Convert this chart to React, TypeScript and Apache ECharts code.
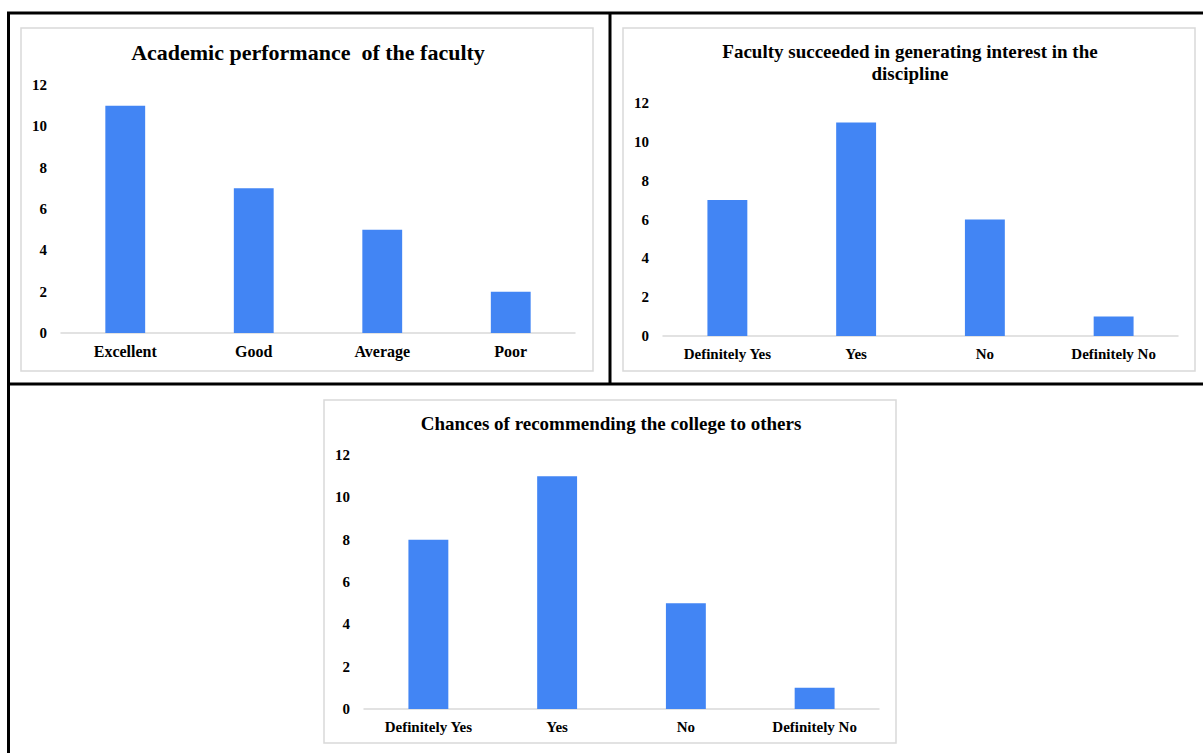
import React, { useEffect, useRef } from "react";
import * as echarts from "echarts";

const cats1 = ["Excellent", "Good", "Average", "Poor"];
const vals1 = [11, 7, 5, 2];
const cats2 = ["Definitely Yes", "Yes", "No", "Definitely No"];
const vals2 = [7, 11, 6, 1];
const cats3 = ["Definitely Yes", "Yes", "No", "Definitely No"];
const vals3 = [8, 11, 5, 1];

const title1 = "Academic performance  of the faculty";
const title2 = "Faculty succeeded in generating interest in the\ndiscipline";
const title3 = "Chances of recommending the college to others";

const FONT = "'Liberation Serif', 'Times New Roman', serif";
const BAR = "#4285F4";
const AXIS = "#d9d9d9";

export default function App() {
  const ref = useRef<HTMLDivElement>(null);
  useEffect(() => {
    const chart = echarts.init(ref.current!, undefined, { renderer: "svg" });
    const grids = [
      { left: 61, top: 85, width: 514, height: 248 },
      { left: 663, top: 103, width: 515, height: 233 },
      { left: 364, top: 455, width: 515, height: 254 },
    ];
    const cats = [cats1, cats2, cats3];
    const vals = [vals1, vals2, vals3];
    const xFont = [16, 15, 15];
    const yFont = [15, 15, 15];
    const box = (x: number, y: number, w: number, h: number) => ({
      type: "rect",
      shape: { x, y, width: w, height: h },
      style: { fill: "none", stroke: AXIS, lineWidth: 1.5 },
      silent: true,
    });
    const bline = (x1: number, y1: number, x2: number, y2: number) => ({
      type: "line",
      shape: { x1, y1, x2, y2 },
      style: { stroke: "#000", lineWidth: 3 },
      silent: true,
    });
    chart.setOption({
      animation: false,
      backgroundColor: "#fff",
      title: [
        { text: title1, left: 303, top: 36, textAlign: "center",
          textStyle: { fontFamily: FONT, fontWeight: "bold", fontSize: 22, color: "#000" } },
        { text: title2, left: 905, top: 35, textAlign: "center",
          textStyle: { fontFamily: FONT, fontWeight: "bold", fontSize: 19, color: "#000", lineHeight: 22, align: "center" } },
        { text: title3, left: 606, top: 409, textAlign: "center",
          textStyle: { fontFamily: FONT, fontWeight: "bold", fontSize: 19, color: "#000" } },
      ],
      grid: grids,
      xAxis: grids.map((_, i) => ({
        type: "category",
        gridIndex: i,
        data: cats[i],
        axisLine: { lineStyle: { color: AXIS, width: 1.5 } },
        axisTick: { show: false },
        axisLabel: { fontFamily: FONT, fontWeight: "bold", fontSize: xFont[i], color: "#000", margin: 10 },
      })),
      yAxis: grids.map((_, i) => ({
        type: "value",
        gridIndex: i,
        min: 0,
        max: 12,
        interval: 2,
        axisLine: { show: false },
        axisTick: { show: false },
        splitLine: { show: false },
        axisLabel: { fontFamily: FONT, fontWeight: "bold", fontSize: yFont[i], color: "#000", margin: 14 },
      })),
      series: grids.map((_, i) => ({
        type: "bar",
        xAxisIndex: i,
        yAxisIndex: i,
        data: vals[i],
        barWidth: "31%",
        itemStyle: { color: BAR },
      })),
      graphic: [
        box(21, 28, 572, 343),
        box(623, 28, 572, 343),
        box(324, 400, 572, 343),
        bline(7, 13, 1203, 13),
        bline(8.5, 12, 8.5, 753),
        bline(610, 12, 610, 385),
        bline(7, 384, 1203, 384),
      ],
    });
    return () => chart.dispose();
  }, []);
  return (
    <div
      ref={ref}
      style={{ position: "fixed", left: 0, top: 0, width: 1203, height: 753, background: "#fff" }}
    />
  );
}
